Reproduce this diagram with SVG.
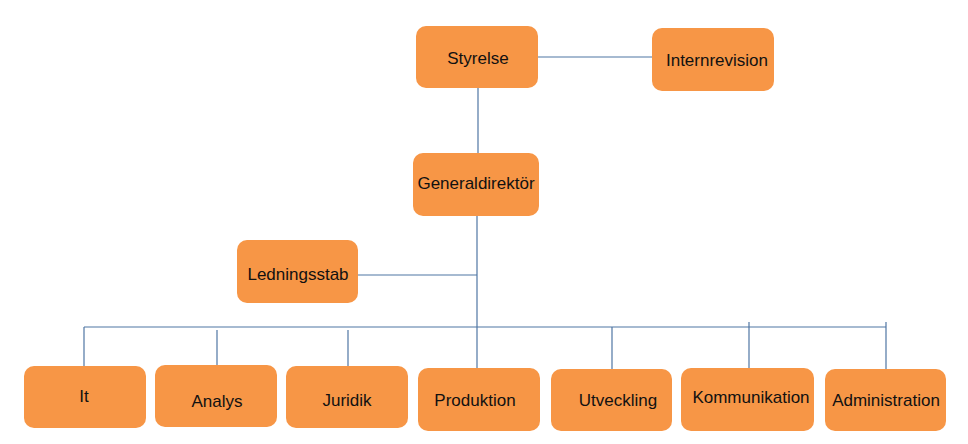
<svg xmlns="http://www.w3.org/2000/svg" width="968" height="444" viewBox="0 0 968 444">
<style>
.box{fill:#F79646;}
.lbl{font-family:"Liberation Sans","Open Sans",sans-serif;font-size:17px;fill:#111111;text-anchor:middle;}
.ln{stroke:#4f76a3;stroke-width:1.2;fill:none;}
</style>
<rect width="968" height="444" fill="#ffffff"/>
<g id="connectors">
<line class="ln" x1="538" y1="57" x2="652" y2="57"/>
<line class="ln" x1="478" y1="88" x2="478" y2="153"/>
<line class="ln" x1="477" y1="216" x2="477" y2="368"/>
<line class="ln" x1="358" y1="275" x2="477" y2="275"/>
<line class="ln" x1="84" y1="327" x2="886" y2="327"/>
<line class="ln" x1="84" y1="327" x2="84" y2="366"/>
<line class="ln" x1="217" y1="330" x2="217" y2="365"/>
<line class="ln" x1="348" y1="330" x2="348" y2="366"/>
<line class="ln" x1="612" y1="327" x2="612" y2="369"/>
<line class="ln" x1="749" y1="322" x2="749" y2="368"/>
<line class="ln" x1="886" y1="322" x2="886" y2="369"/>
</g>
<g id="styrelse"><rect class="box" x="416" y="26" width="122" height="62" rx="10"/><text class="lbl" x="478" y="64">Styrelse</text></g>
<g id="internrevision"><rect class="box" x="652" y="28" width="122" height="63" rx="10"/><text class="lbl" x="717" y="66">Internrevision</text></g>
<g id="generaldirektor"><rect class="box" x="413" y="153" width="126" height="63" rx="10"/><text class="lbl" x="476" y="189">Generaldirektör</text></g>
<g id="ledningsstab"><rect class="box" x="237" y="240" width="121" height="63" rx="10"/><text class="lbl" x="298" y="280">Ledningsstab</text></g>
<g id="it"><rect class="box" x="24" y="366" width="122" height="62" rx="10"/><text class="lbl" x="84" y="402">It</text></g>
<g id="analys"><rect class="box" x="155" y="365" width="122" height="62" rx="10"/><text class="lbl" x="217" y="407">Analys</text></g>
<g id="juridik"><rect class="box" x="286" y="366" width="122" height="62" rx="10"/><text class="lbl" x="347" y="406">Juridik</text></g>
<g id="produktion"><rect class="box" x="418" y="368" width="122" height="63" rx="10"/><text class="lbl" x="475" y="406">Produktion</text></g>
<g id="utveckling"><rect class="box" x="551" y="369" width="121" height="62" rx="10"/><text class="lbl" x="618" y="406">Utveckling</text></g>
<g id="kommunikation"><rect class="box" x="681" y="368" width="133" height="63" rx="10"/><text class="lbl" x="751" y="403">Kommunikation</text></g>
<g id="administration"><rect class="box" x="825" y="369" width="121" height="62" rx="10"/><text class="lbl" x="886" y="406">Administration</text></g>
</svg>
